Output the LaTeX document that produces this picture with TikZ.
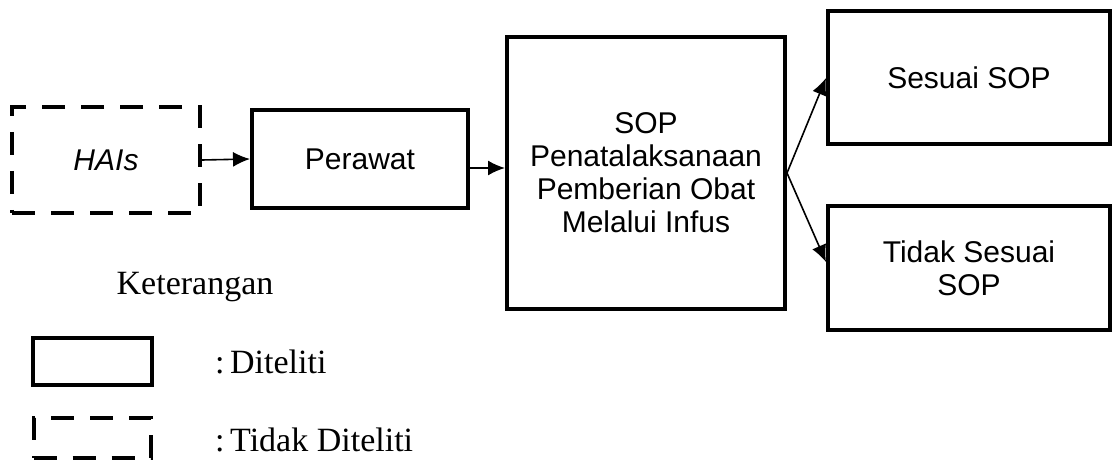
\documentclass[tikz,border=0pt]{standalone}
\usepackage{fontspec}
\setmainfont{Liberation Serif}
\setsansfont{Liberation Sans}
\usetikzlibrary{arrows.meta}

\tikzset{
    box/.style={draw, line width=2pt, align=center, font=\sffamily\fontsize{15}{16.5}\selectfont, inner sep=2pt},
    dashbox/.style={box, dash pattern=on 11.5pt off 8pt},
    arr/.style={-{Latex[length=8.5pt,width=7.5pt]}, line width=0.8pt},
    legtext/.style={anchor=west, font=\fontsize{17}{20}\selectfont}
}

\begin{document}
\begin{tikzpicture}[x=0.5pt, y=-0.5pt]

\useasboundingbox (0,0) rectangle (1113,470);

% Main flow
\node[dashbox, minimum width=94pt, minimum height=53pt] (hais) at (106,160) {\itshape HAIs};
\node[box, minimum width=108pt, minimum height=49pt] (perawat) at (360,159) {Perawat};
\node[box, minimum width=139pt, minimum height=136pt] (sop) at (646,173)
    {SOP\\Penatalaksanaan\\Pemberian Obat\\Melalui Infus};

% Outcomes
\node[box, minimum width=141pt, minimum height=66.5pt] (sesuai) at (969,78) {Sesuai SOP};
\node[box, minimum width=141pt, minimum height=61.5pt] (tidak) at (969,268) {Tidak Sesuai\\SOP};

% Arrows
\draw[arr] (hais.east) -- (perawat.west);
\draw[arr] ([yshift=-4.5pt]perawat.east) -- ([yshift=-4.5pt]perawat.east -| sop.west);
\draw[arr] (sop.east) -- (sesuai.west);
\draw[arr] (sop.east) -- ([yshift=3pt]tidak.west);

% Legend
\node[font=\fontsize{17}{20}\selectfont] (ket) at (195,287) {Keterangan};
\node[draw, line width=2pt, minimum width=59.5pt, minimum height=23.5pt] (legbox) at (92,361) {};
\node[draw, line width=2pt, dash pattern=on 11.5pt off 8pt, minimum width=58.5pt, minimum height=20pt] (legdash) at (92,438) {};
\node[legtext] (legboxtext) at (208,362) {:\,Diteliti};
\node[legtext] (legdashtext) at (208,440) {:\,Tidak Diteliti};

\end{tikzpicture}
\end{document}
